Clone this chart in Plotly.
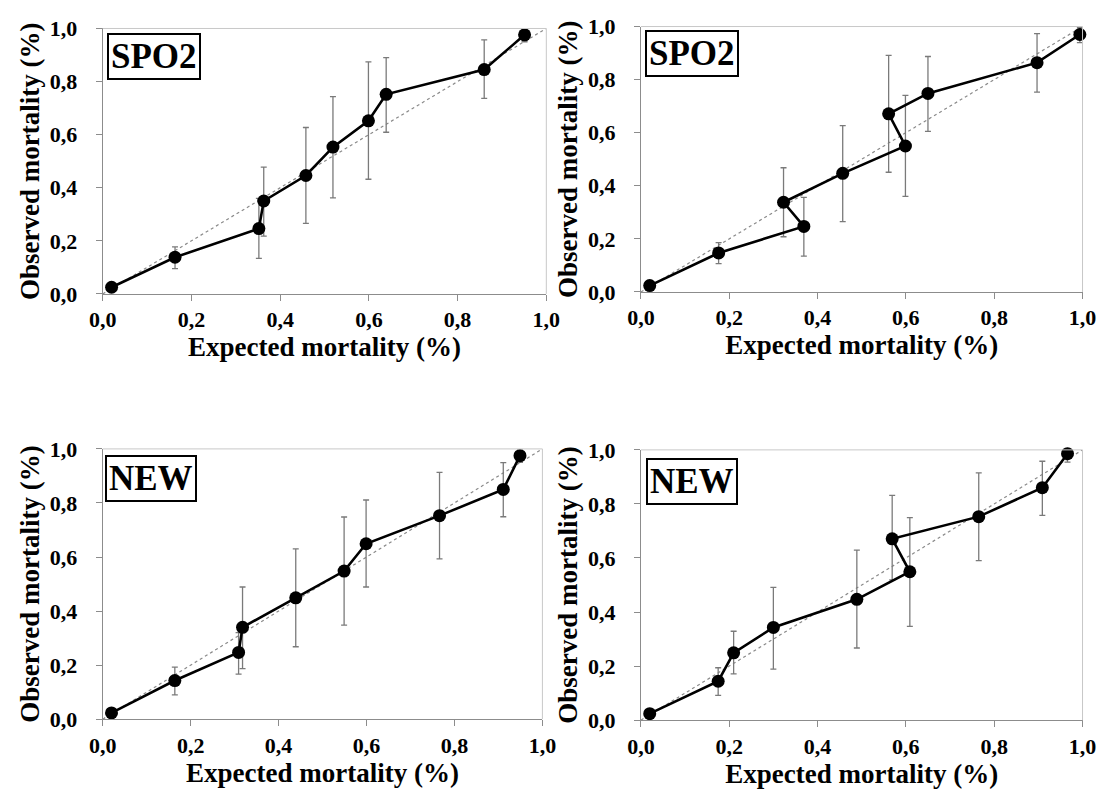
import plotly.graph_objects as go

# ---------------- data ----------------
ref_x = [0.0, 1.0]
ref_y = [0.0, 1.0]

tick_vals = [0.0, 0.2, 0.4, 0.6, 0.8, 1.0]
tick_text = ["0,0", "0,2", "0,4", "0,6", "0,8", "1,0"]

p1_x = [0.02, 0.163, 0.352, 0.363, 0.458, 0.519, 0.599, 0.639, 0.860, 0.951]
p1_y = [0.025, 0.138, 0.246, 0.350, 0.446, 0.553, 0.652, 0.752, 0.845, 0.976]
p1_lo = [0.02, 0.095, 0.134, 0.218, 0.266, 0.362, 0.432, 0.609, 0.737, 0.95]
p1_hi = [0.03, 0.177, 0.36, 0.478, 0.627, 0.743, 0.874, 0.890, 0.957, 1.0]

p2_x = [0.02, 0.176, 0.369, 0.323, 0.457, 0.599, 0.561, 0.650, 0.897, 0.994]
p2_y = [0.024, 0.147, 0.247, 0.338, 0.447, 0.550, 0.671, 0.748, 0.864, 0.970]
p2_lo = [0.02, 0.107, 0.135, 0.208, 0.265, 0.36, 0.451, 0.605, 0.753, 0.939]
p2_hi = [0.03, 0.186, 0.356, 0.468, 0.627, 0.741, 0.891, 0.887, 0.973, 0.996]

p3_x = [0.02, 0.164, 0.309, 0.318, 0.439, 0.549, 0.599, 0.766, 0.911, 0.949]
p3_y = [0.023, 0.143, 0.247, 0.340, 0.449, 0.548, 0.649, 0.753, 0.850, 0.975]
p3_lo = [0.02, 0.09, 0.167, 0.187, 0.268, 0.348, 0.489, 0.593, 0.749, 0.95]
p3_hi = [0.03, 0.193, 0.32, 0.489, 0.63, 0.748, 0.811, 0.913, 0.949, 1.0]

p4_x = [0.02, 0.175, 0.21, 0.30, 0.489, 0.609, 0.569, 0.765, 0.909, 0.966]
p4_y = [0.024, 0.144, 0.249, 0.343, 0.447, 0.549, 0.671, 0.753, 0.860, 0.986]
p4_lo = [0.02, 0.092, 0.171, 0.189, 0.267, 0.347, 0.519, 0.590, 0.758, 0.955]
p4_hi = [0.03, 0.194, 0.329, 0.491, 0.629, 0.749, 0.832, 0.915, 0.958, 1.0]

panel_labels = ["SPO2", "SPO2", "NEW", "NEW"]
x_title = "Expected mortality (%)"
y_title = "Observed mortality (%)"

# ---------------- layout geometry ----------------
W, H = 1117, 800
boxes = [(91, 546, 17, 291), (643, 1096, 15, 289), (91, 542, 451, 730), (643, 1096, 452, 731)]
label_pos = [(95, 22), (647, 19), (93, 457), (648, 460)]

FONT = "'Liberation Serif', 'Times New Roman', 'DejaVu Serif', serif"

fig = go.Figure()
panels = [(p1_x, p1_y, p1_lo, p1_hi), (p2_x, p2_y, p2_lo, p2_hi),
          (p3_x, p3_y, p3_lo, p3_hi), (p4_x, p4_y, p4_lo, p4_hi)]

layout = {}
for i, ((px, py, lo, hi), (l, r, t, b)) in enumerate(zip(panels, boxes)):
    n = "" if i == 0 else str(i + 1)
    xa, ya = "x" + n, "y" + n
    fig.add_trace(go.Scatter(x=ref_x, y=ref_y, mode="lines", xaxis=xa, yaxis=ya,
                             line=dict(color="#8a8a8a", width=1.2, dash="dot"),
                             showlegend=False, hoverinfo="skip"))
    fig.add_trace(go.Scatter(
        x=px, y=py, mode="lines+markers", xaxis=xa, yaxis=ya, showlegend=False,
        line=dict(color="black", width=2.6),
        marker=dict(color="black", size=13),
        cliponaxis=False,
        error_y=dict(type="data", symmetric=False,
                     array=[h - v for h, v in zip(hi, py)],
                     arrayminus=[v - lo_ for v, lo_ in zip(py, lo)],
                     color="#7a7a7a", thickness=1.3, width=3)))
    common = dict(range=[0, 1], tickmode="array", tickvals=tick_vals,
                  ticktext=["<b>" + s + "</b>" for s in tick_text],
                  showgrid=False, zeroline=False, showline=True,
                  linecolor="#8c8c8c", linewidth=1, ticks="outside",
                  ticklen=6, tickcolor="#8c8c8c", tickwidth=1,
                  tickfont=dict(family=FONT, size=22, color="black"),
                  fixedrange=True)
    layout["xaxis" + n] = dict(common, domain=[l / W, r / W], anchor=ya,
                               ticklabelstandoff=0,
                               title=dict(text="<b>" + x_title + "</b>", standoff=0,
                                          font=dict(family=FONT, size=27, color="black")))
    layout["yaxis" + n] = dict(common, domain=[1 - b / H, 1 - t / H], anchor=xa,
                               ticklabelstandoff=14,
                               title=dict(text="<b>" + y_title + "</b>", standoff=2,
                                          font=dict(family=FONT, size=27, color="black")))

fig.update_layout(**layout)

shapes = []
annotations = []
for i, (l, r, t, b) in enumerate(boxes):
    shapes.append(dict(type="line", xref="paper", yref="paper",
                       x0=l / W, x1=r / W, y0=1 - t / H, y1=1 - t / H,
                       line=dict(color="#c8c8c8", width=1)))
    shapes.append(dict(type="line", xref="paper", yref="paper",
                       x0=r / W, x1=r / W, y0=1 - t / H, y1=1 - b / H,
                       line=dict(color="#c8c8c8", width=1)))
    lx, ly = label_pos[i]
    annotations.append(dict(text="<b>" + panel_labels[i] + "</b>", xref="paper", yref="paper",
                            x=lx / W, y=1 - ly / H, xanchor="left", yanchor="top",
                            showarrow=False, bgcolor="white", bordercolor="black",
                            borderwidth=2, borderpad=2,
                            font=dict(family=FONT, size=35, color="black")))

fig.update_layout(
    width=W, height=H, margin=dict(l=0, r=0, t=0, b=0),
    paper_bgcolor="white", plot_bgcolor="white",
    font=dict(family=FONT),
    shapes=shapes, annotations=annotations,
)

fig.write_html("out.html", config={"displayModeBar": False})
